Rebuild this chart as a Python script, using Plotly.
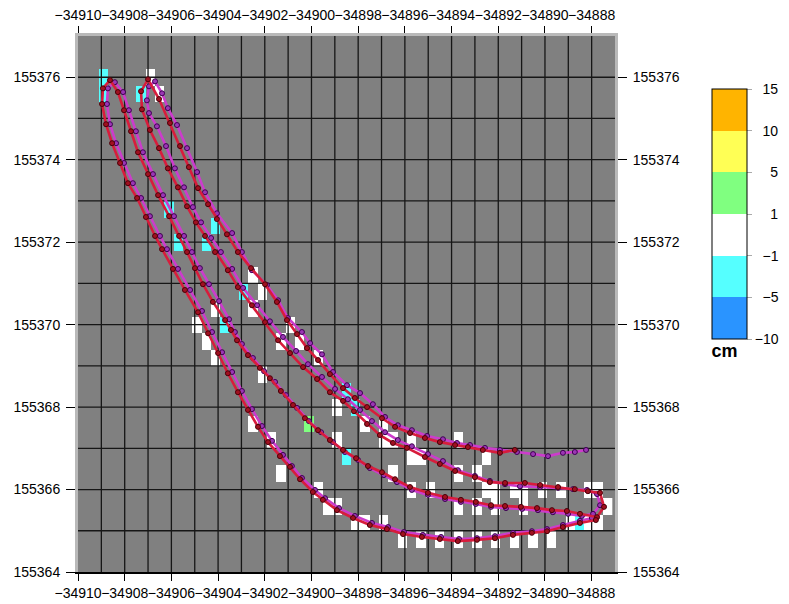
import numpy as np
import plotly.graph_objects as go

# ---------------------------------------------------------------------------
# Track 1 (red), four legs in driving order
# ---------------------------------------------------------------------------
red_leg1_e = [-34891.29, -34891.93, -34892.66, -34893.30, -34893.85, -34894.50, -34895.14, -34895.78,
              -34896.42, -34896.98, -34897.62, -34898.14, -34898.65, -34899.21, -34899.72, -34900.19,
              -34900.62, -34901.05, -34901.48, -34901.99, -34902.59, -34903.15, -34903.62, -34904.05,
              -34904.43, -34904.86, -34905.25, -34905.63, -34906.06, -34906.53, -34907.00]
red_leg1_n = [155366.96, 155366.89, 155366.96, 155367.03, 155367.08, 155367.15, 155367.25, 155367.37,
              155367.52, 155367.73, 155368.00, 155368.22, 155368.46, 155368.80, 155369.14, 155369.43,
              155369.77, 155370.11, 155370.55, 155370.98, 155371.37, 155371.76, 155372.19, 155372.56,
              155372.92, 155373.31, 155373.82, 155374.33, 155374.89, 155375.47, 155375.95]

red_leg2_e = [-34907.30, -34907.26, -34906.92, -34906.53, -34906.15, -34905.72, -34905.33, -34904.95,
              -34904.56, -34904.13, -34903.58, -34903.15, -34902.55, -34901.99, -34901.43, -34900.92,
              -34900.36, -34899.76, -34899.21, -34898.65, -34898.18, -34897.62, -34897.07, -34896.51,
              -34895.91, -34895.14, -34894.50, -34893.85, -34893.00, -34892.36, -34891.71, -34890.86,
              -34890.21, -34889.44, -34888.72, -34888.16, -34887.64, -34887.47, -34887.77]
red_leg2_n = [155375.66, 155375.22, 155374.72, 155374.28, 155373.79, 155373.33, 155372.87, 155372.48,
              155372.15, 155371.76, 155371.32, 155370.91, 155370.47, 155370.06, 155369.62, 155369.31,
              155368.97, 155368.68, 155368.36, 155368.15, 155367.90, 155367.59, 155367.32, 155367.13,
              155367.01, 155366.79, 155366.62, 155366.45, 155366.30, 155366.18, 155366.16, 155366.16,
              155366.11, 155366.06, 155366.01, 155365.96, 155365.92, 155365.58, 155365.33]

red_leg3_e = [-34888.50, -34889.06, -34889.70, -34890.34, -34891.03, -34891.71, -34892.31, -34892.96,
              -34893.60, -34894.28, -34895.01, -34895.78, -34896.42, -34896.98, -34897.58, -34898.09,
              -34898.65, -34899.21, -34899.72, -34900.28, -34900.79, -34901.31, -34901.78, -34902.21,
              -34902.72, -34903.19, -34903.45, -34903.70, -34904.22, -34904.65, -34904.99, -34905.33,
              -34905.67, -34906.10, -34906.57, -34907.00, -34907.43, -34907.73, -34908.03, -34908.29,
              -34908.63]
red_leg3_n = [155365.41, 155365.48, 155365.50, 155365.55, 155365.58, 155365.60, 155365.62, 155365.70,
              155365.75, 155365.82, 155365.92, 155366.06, 155366.25, 155366.42, 155366.57, 155366.76,
              155366.96, 155367.20, 155367.44, 155367.73, 155368.05, 155368.39, 155368.70, 155368.95,
              155369.26, 155369.62, 155369.87, 155370.11, 155370.55, 155370.98, 155371.37, 155371.76,
              155372.15, 155372.63, 155373.14, 155373.65, 155374.18, 155374.69, 155375.20, 155375.64,
              155375.93]

red_leg4_e = [-34908.93, -34908.97, -34908.80, -34908.54, -34908.20, -34907.86, -34907.47, -34907.09,
              -34906.70, -34906.40, -34905.93, -34905.42, -34904.86, -34904.43, -34904.00, -34903.58,
              -34903.15, -34902.72, -34902.29, -34901.86, -34901.35, -34900.92, -34900.49, -34899.94,
              -34899.51, -34898.91, -34898.22, -34897.50, -34896.77, -34896.08, -34895.27, -34894.50,
              -34893.73, -34892.91, -34892.14, -34891.37, -34890.56, -34889.91, -34889.23, -34888.50,
              -34887.82]
red_leg4_n = [155375.73, 155375.35, 155374.86, 155374.40, 155373.92, 155373.43, 155373.07, 155372.61,
              155372.15, 155371.83, 155371.35, 155370.84, 155370.30, 155369.79, 155369.31, 155368.82,
              155368.36, 155367.93, 155367.52, 155367.15, 155366.81, 155366.55, 155366.25, 155365.94,
              155365.75, 155365.50, 155365.31, 155365.14, 155365.04, 155364.92, 155364.85, 155364.80,
              155364.75, 155364.78, 155364.82, 155364.90, 155364.95, 155364.99, 155365.09, 155365.19,
              155365.26]

# ---------------------------------------------------------------------------
# Track 2 (magenta), same four legs
# ---------------------------------------------------------------------------
mag_leg1_e = [-34888.24, -34888.72, -34889.23, -34889.87, -34890.51, -34891.20, -34891.93, -34892.57,
              -34893.21, -34893.77, -34894.37, -34895.05, -34895.70, -34896.30, -34896.85, -34897.37,
              -34897.92, -34898.48, -34899.08, -34899.55, -34900.06, -34900.41, -34901.01, -34901.43,
              -34901.91, -34902.55, -34902.98, -34903.40, -34904.05, -34904.56, -34904.90, -34905.33,
              -34905.76, -34906.15, -34906.40, -34906.70]
mag_leg1_n = [155366.96, 155366.91, 155366.89, 155366.81, 155366.86, 155366.91, 155366.96, 155367.01,
              155367.08, 155367.13, 155367.22, 155367.30, 155367.44, 155367.56, 155367.76, 155368.07,
              155368.34, 155368.53, 155368.85, 155369.28, 155369.55, 155369.82, 155370.16, 155370.59,
              155370.96, 155371.32, 155371.76, 155372.22, 155372.70, 155373.21, 155373.70, 155374.28,
              155374.84, 155375.25, 155375.61, 155375.90]

mag_leg2_e = [-34906.96, -34907.05, -34906.96, -34906.62, -34906.23, -34905.85, -34905.46, -34905.08,
              -34904.73, -34904.30, -34903.88, -34903.40, -34902.93, -34902.33, -34901.78, -34901.22,
              -34900.66, -34900.15, -34899.55, -34898.99, -34898.44, -34897.92, -34897.41, -34896.85,
              -34896.30, -34895.70, -34895.01, -34894.37, -34893.73, -34893.00, -34892.36, -34891.71,
              -34891.07, -34890.21, -34889.44, -34888.80, -34888.20, -34887.77, -34887.64, -34887.94]
mag_leg2_n = [155375.78, 155375.44, 155375.13, 155374.81, 155374.33, 155373.79, 155373.33, 155372.85,
              155372.48, 155372.10, 155371.76, 155371.35, 155370.89, 155370.47, 155370.08, 155369.70,
              155369.36, 155369.04, 155368.73, 155368.44, 155368.19, 155367.93, 155367.66, 155367.39,
              155367.20, 155367.05, 155366.86, 155366.69, 155366.47, 155366.33, 155366.21, 155366.13,
              155366.08, 155366.06, 155366.04, 155366.01, 155365.99, 155365.89, 155365.62, 155365.41]

mag_leg3_e = [-34888.42, -34889.01, -34889.66, -34890.30, -34890.98, -34891.67, -34892.31, -34892.96,
              -34893.60, -34894.28, -34895.01, -34895.70, -34896.34, -34896.90, -34897.50, -34898.01,
              -34898.57, -34899.08, -34899.59, -34900.11, -34900.62, -34901.09, -34901.56, -34902.03,
              -34902.51, -34902.98, -34903.28, -34903.53, -34903.96, -34904.39, -34904.78, -34905.12,
              -34905.46, -34905.89, -34906.36, -34906.79, -34907.22, -34907.52, -34907.82, -34908.07,
              -34908.42]
mag_leg3_n = [155365.36, 155365.41, 155365.45, 155365.50, 155365.53, 155365.55, 155365.58, 155365.65,
              155365.70, 155365.77, 155365.87, 155365.99, 155366.18, 155366.35, 155366.52, 155366.72,
              155366.91, 155367.15, 155367.39, 155367.66, 155367.98, 155368.29, 155368.61, 155368.87,
              155369.19, 155369.53, 155369.82, 155370.13, 155370.57, 155370.98, 155371.37, 155371.76,
              155372.15, 155372.63, 155373.14, 155373.65, 155374.18, 155374.69, 155375.20, 155375.64,
              155375.88]

mag_leg4_e = [-34908.72, -34908.76, -34908.63, -34908.37, -34908.03, -34907.65, -34907.30, -34906.92,
              -34906.49, -34906.19, -34905.72, -34905.20, -34904.69, -34904.26, -34903.83, -34903.40,
              -34902.98, -34902.55, -34902.12, -34901.69, -34901.22, -34900.84, -34900.41, -34899.85,
              -34899.42, -34898.82, -34898.14, -34897.41, -34896.72, -34896.04, -34895.23, -34894.45,
              -34893.68, -34892.91, -34892.14, -34891.37, -34890.56, -34889.91, -34889.23, -34888.50,
              -34887.99]
mag_leg4_n = [155375.73, 155375.35, 155374.86, 155374.40, 155373.92, 155373.43, 155373.07, 155372.63,
              155372.15, 155371.83, 155371.35, 155370.84, 155370.33, 155369.82, 155369.33, 155368.85,
              155368.39, 155367.95, 155367.54, 155367.18, 155366.84, 155366.57, 155366.28, 155365.99,
              155365.79, 155365.55, 155365.36, 155365.19, 155365.09, 155364.97, 155364.90, 155364.85,
              155364.80, 155364.82, 155364.87, 155364.95, 155364.99, 155365.04, 155365.14, 155365.24,
              155365.31]

# ---------------------------------------------------------------------------
# Height differences per 0.4 m cell (cell centre easting / northing, value in cm)
# ---------------------------------------------------------------------------
cell_e = [
    -34908.9, -34908.9, -34907.3, -34906.1, -34905.7, -34904.5, -34904.1, -34902.9, -34903.7,
    -34898.5, -34898.1, -34898.5, -34888.5,
    -34900.1,
    -34906.9, -34906.5, -34902.5, -34902.1, -34902.5, -34904.1, -34904.9, -34904.5, -34904.1,
    -34900.9, -34901.3, -34900.5, -34899.7, -34902.1, -34898.9, -34897.7, -34898.9, -34896.9,
    -34896.9, -34896.5, -34895.7, -34895.7, -34895.3, -34896.5, -34895.7, -34894.9, -34893.7,
    -34892.5, -34893.7, -34892.9, -34893.7, -34892.9, -34901.3, -34899.7, -34899.3, -34898.9,
    -34898.1, -34897.7, -34896.9, -34896.1, -34895.3, -34894.5, -34893.7, -34892.9, -34892.1,
    -34891.3, -34890.5, -34889.7, -34892.5, -34892.1, -34892.1, -34891.3, -34890.9, -34890.9,
    -34890.1, -34889.3, -34888.1, -34887.7, -34887.3, -34888.9, -34888.1, -34887.7, -34902.5,
    -34901.7,
]
cell_n = [
    155376.0, 155375.6, 155375.6, 155372.8, 155372.0, 155372.0, 155372.4, 155370.8, 155370.0,
    155368.4, 155368.0, 155366.8, 155365.2,
    155367.6,
    155376.0, 155375.6, 155371.2, 155370.8, 155370.4, 155370.4, 155370.0, 155369.6, 155369.2,
    155370.0, 155369.6, 155369.6, 155369.2, 155368.8, 155368.0, 155367.6, 155367.2, 155367.6,
    155367.2, 155367.2, 155367.2, 155366.8, 155366.8, 155366.4, 155366.0, 155366.0, 155367.2,
    155366.8, 155366.4, 155366.4, 155365.6, 155365.6, 155366.4, 155366.0, 155365.6, 155365.6,
    155365.2, 155365.2, 155365.2, 155364.8, 155364.8, 155364.8, 155364.8, 155364.8, 155364.8,
    155364.8, 155364.8, 155364.8, 155366.0, 155366.0, 155365.6, 155366.0, 155366.0, 155365.6,
    155366.0, 155366.0, 155366.0, 155366.0, 155365.6, 155365.2, 155365.2, 155365.2, 155367.6,
    155367.2,
]
cell_cm = [
    -2.6, -1.8, -2.1, -2.4, -1.7, -2.2, -1.9, -2.8, -1.6,
    -3.1, -2.3, -2.7, -1.9,
    1.8,
    0.6, 0.4, -0.5, 0.3, -0.2, 0.7, 0.5, -0.3, 0.2,
    -0.6, 0.4, -0.4, 0.6, 0.1, -0.7, 0.3, 0.5, -0.2,
    0.4, -0.5, 0.2, 0.6, -0.3, 0.1, -0.4, 0.5, 0.3,
    -0.6, 0.2, -0.1, 0.7, 0.4, -0.5, 0.3, 0.6, -0.2,
    0.4, -0.3, 0.5, 0.2, -0.4, 0.6, 0.3, -0.2, 0.5,
    0.1, -0.6, 0.4, 0.2, -0.3, 0.6, 0.3, -0.5, 0.2,
    0.4, -0.1, 0.5, 0.3, -0.4, 0.6, 0.2, -0.3, 0.4,
    -0.2,
]

# colour classes (cm)
class_edges = [-10, -5, -1, 1, 5, 10, 15]
class_labels = ["−10", "−5", "−1", "1", "5", "10", "15"]
class_colors = ["#2a94ff", "#55ffff", "#ffffff", "#80ff80", "#ffff55", "#ffb400"]

x_ticks = list(range(-34910, -34887, 2))
y_ticks = list(range(155364, 155377, 2))
x_range = [-34910, -34887]
y_range = [155364, 155377]

FONT = "Liberation Sans, Arial, Helvetica, sans-serif"

# ---------------------------------------------------------------------------
# Raster of classified cells
# ---------------------------------------------------------------------------
CELL = 0.4
E0, N0 = -34909.7, 155364.4
ncol, nrow = 57, 32
grid_e = E0 + CELL * np.arange(ncol)
grid_n = N0 + CELL * np.arange(nrow)
z = np.full((nrow, ncol), np.nan)
cls = np.digitize(cell_cm, class_edges) - 1
for e, n, k in zip(cell_e, cell_n, cls):
    c = int(round((e - E0) / CELL))
    r = int(round((n - N0) / CELL))
    z[r, c] = k + 0.5

nclass = len(class_colors)
colorscale = []
for i, col in enumerate(class_colors):
    colorscale += [[i / nclass, col], [(i + 1) / nclass, col]]

# figure-space padding so the colour-bar numbers line up on the right
pad = "\u2007"
cb_text = [pad * (3 - len(t)) + t for t in class_labels]

fig = go.Figure()

fig.add_trace(go.Heatmap(
    z=z, x=grid_e, y=grid_n, zmin=0, zmax=nclass, colorscale=colorscale,
    hoverinfo="skip", showscale=True,
    colorbar=dict(
        x=1.1806, xanchor="left", xpad=0, y=1.0, yanchor="top", ypad=0,
        lenmode="pixels", len=275, thicknessmode="pixels", thickness=35,
        outlinewidth=1, outlinecolor="black",
        tickmode="array", tickvals=list(range(nclass + 1)), ticktext=cb_text,
        ticks="outside", ticklen=5, tickcolor="#aaaaaa", tickwidth=1,
        tickfont=dict(family=FONT, size=14, color="black"),
        title=dict(text="<b>cm</b>", side="bottom", font=dict(family=FONT, size=18, color="black")),
    ),
))

# 1 m grid drawn over the raster
gx, gy = [], []
for v in range(x_range[0] + 1, x_range[1]):
    gx += [v, v, None]
    gy += [y_range[0], y_range[1], None]
for h in range(y_range[0] + 1, y_range[1]):
    gx += [x_range[0], x_range[1], None]
    gy += [h, h, None]
fig.add_trace(go.Scatter(x=gx, y=gy, mode="lines", line=dict(color="#161616", width=1.3),
                         hoverinfo="skip", showlegend=False))

# tracks
mag_e = mag_leg1_e + mag_leg2_e + mag_leg3_e + mag_leg4_e
mag_n = mag_leg1_n + mag_leg2_n + mag_leg3_n + mag_leg4_n
red_e = red_leg1_e + red_leg2_e + red_leg3_e + red_leg4_e
red_n = red_leg1_n + red_leg2_n + red_leg3_n + red_leg4_n

fig.add_trace(go.Scatter(
    x=mag_e, y=mag_n, mode="lines+markers",
    line=dict(color="#cc3ccc", width=2.6),
    marker=dict(size=5, color="#9b36b4", line=dict(color="#3c0050", width=1)),
    hoverinfo="skip", showlegend=False))
fig.add_trace(go.Scatter(
    x=red_e, y=red_n, mode="lines+markers",
    line=dict(color="#d81c3c", width=2.6),
    marker=dict(size=5, color="#a01020", line=dict(color="#4a0008", width=1)),
    hoverinfo="skip", showlegend=False))

# carrier for the mirrored top / right axes
fig.add_trace(go.Scatter(x=[None], y=[None], xaxis="x2", yaxis="y2",
                         hoverinfo="skip", showlegend=False))

x_text = ["−" + str(abs(v)) for v in x_ticks]
y_text = [str(v) for v in y_ticks]
tickfont = dict(family=FONT, size=14, color="black")
frame = "#b9b9b9"

common_x = dict(range=x_range, tickmode="array", tickvals=x_ticks, ticktext=x_text,
                tickangle=0, automargin=False, ticks="outside", ticklen=7, tickwidth=1.3,
                tickcolor="black", showgrid=False, zeroline=False, tickfont=tickfont)
common_y = dict(range=y_range, tickmode="array", tickvals=y_ticks, ticktext=y_text,
                tickangle=0, automargin=False, ticks="outside", ticklen=9, tickwidth=1.3,
                tickcolor="black", showgrid=False, zeroline=False, tickfont=tickfont,
                ticklabelstandoff=3)

fig.update_layout(
    width=789, height=604,
    margin=dict(l=78, r=174, t=36, b=32, autoexpand=False),
    paper_bgcolor="white", plot_bgcolor="#808080",
    showlegend=False,
    xaxis=dict(**common_x, showline=True, linecolor="black", linewidth=2),
    yaxis=dict(**common_y, showline=True, linecolor=frame, linewidth=3),
    xaxis2=dict(**common_x, overlaying="x", side="top", anchor="y2",
                showline=True, linecolor=frame, linewidth=3),
    yaxis2=dict(**common_y, overlaying="y", side="right", anchor="x2",
                showline=True, linecolor=frame, linewidth=3),
)

# the colour bar block starts 53 px below the top of the plot area
fig.update_traces(colorbar_y=1 - 53 / 536, selector=dict(type="heatmap"))

fig.write_html("out.html")
